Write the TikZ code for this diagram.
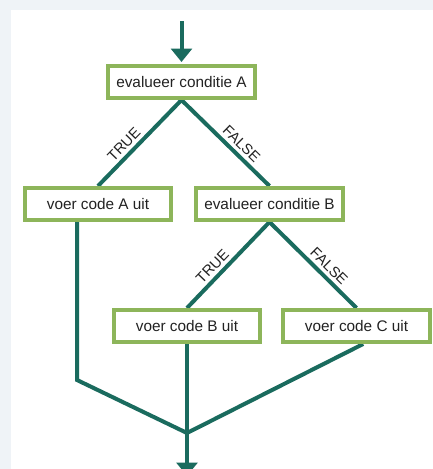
\documentclass[tikz,border=0pt]{standalone}
\usepackage{fontspec}
\setmainfont{Liberation Sans}
\usepackage{xcolor}
\usepackage{tikz}
\usetikzlibrary{arrows.meta,backgrounds}

\definecolor{boxgreen}{HTML}{8DB55A}
\definecolor{flowteal}{HTML}{1A6B5E}
\definecolor{pagebg}{HTML}{EFF3F7}
\definecolor{textgray}{HTML}{222222}

\begin{document}
\begin{tikzpicture}[
    x=0.75pt, y=-0.75pt,
    box/.style={
        % The shape:
        rectangle,
        minimum width=110pt,
        minimum height=24pt,
        inner sep=0pt,
        % The fill
        line width=3pt,
        draw=boxgreen,
        fill=white,
        % The fonts
        text=textgray,
        font=\fontsize{11.5}{13}\selectfont},
    flow/.style={draw=flowteal, line width=3pt, line join=miter},
    tip/.style={-{Triangle[width=15.5pt,length=10pt]}},
    lbl/.style={pos=0.6, above, sloped, inner sep=2.5pt, text=textgray,
        font=\fontsize{11}{13}\selectfont}]
  \useasboundingbox (0,0) rectangle (433,469);
  % boxes
  \node (condA) [box] at (181.5,82) {evalueer conditie A};
  \node (codeA) [box] at (98,204) {voer code A uit};
  \node (condB) [box] at (269.5,204) {evalueer conditie B};
  \node (codeB) [box] at (187,326) {voer code B uit};
  \node (codeC) [box] at (356.5,326) {voer code C uit};
  \coordinate (entry) at (181.5,21);
  \coordinate (bend) at (77,380);
  \coordinate (join) at (187,433);
  \coordinate (exit) at (187,476);
  % connectors behind the boxes
  \begin{scope}[on background layer]
    \fill[pagebg] (0,0) rectangle (433,469);
    \fill[white] (11,10) rectangle (433,469);
    \draw[flow,tip,shorten >=1.5pt] (entry) -- (condA.north);
    \draw[flow] (condA.south) -- node[lbl] {TRUE} (codeA.north);
    \draw[flow] (condA.south) -- node[lbl] {FALSE} (condB.north);
    \draw[flow] (condB.south) -- node[lbl] {TRUE} (codeB.north);
    \draw[flow] (condB.south) -- node[lbl] {FALSE} (codeC.north);
    \draw[flow] (codeA.south -| bend) -- (bend) -- (join);
    \draw[flow] (codeB.south) -- (join);
    \draw[flow] ([xshift=5pt]codeC.south) -- (join);
    \draw[flow,tip] (join) -- (exit);
  \end{scope}
\end{tikzpicture}
\end{document}
